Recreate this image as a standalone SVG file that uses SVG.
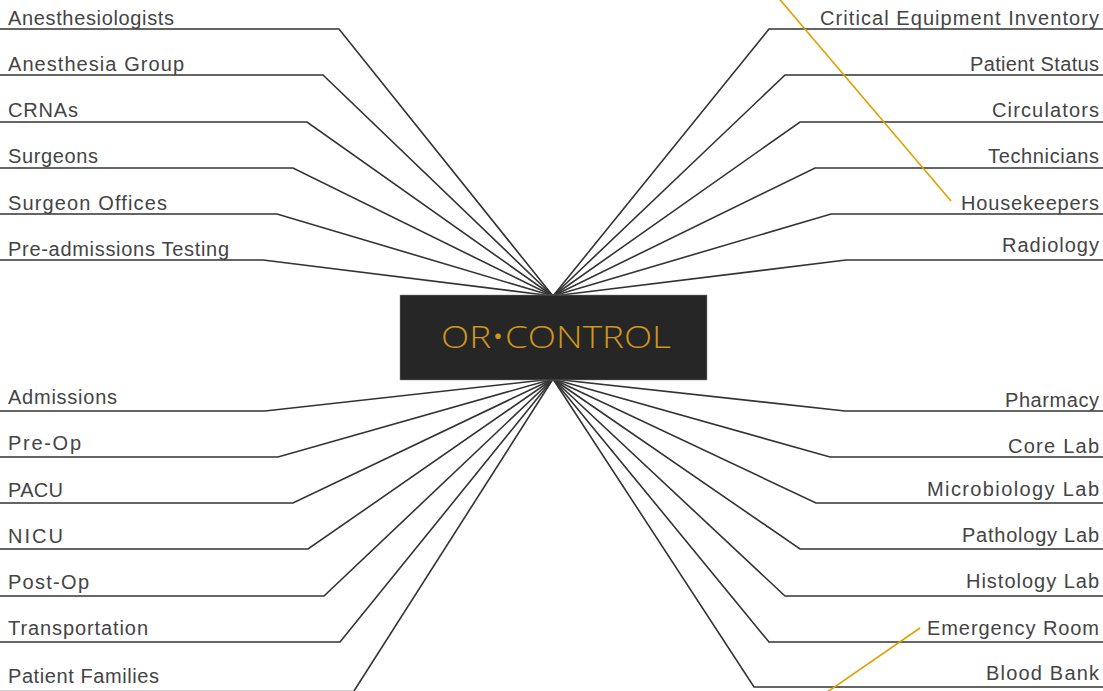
<svg xmlns="http://www.w3.org/2000/svg" width="1103" height="691" viewBox="0 0 1103 691">
<style>
.c{fill:none;stroke:#333;stroke-width:1.6;stroke-linejoin:miter}
.o{fill:none;stroke:#e0a000;stroke-width:1.6}
.t{font-family:"Liberation Sans",Arial,sans-serif;font-size:20px;fill:#444}
.box{fill:#262626;stroke:#888;stroke-width:0.5}
.h{font-family:"Open Sans","Lato","Liberation Sans",sans-serif;font-weight:300;font-size:32px;fill:#cf961c}
</style>
<rect width="1103" height="691" fill="#fff"/>
<g id="connectors">
<polyline class="c" points="0,29 339,29 553,296"/>
<polyline class="c" points="0,75 323,75 553,296"/>
<polyline class="c" points="0,122 307,122 553,296"/>
<polyline class="c" points="0,168 293,168 553,296"/>
<polyline class="c" points="0,214 277,214 553,296"/>
<polyline class="c" points="0,260 263,260 553,296"/>
<polyline class="c" points="1103,29 769,29 553,296"/>
<polyline class="c" points="1103,75 785,75 553,296"/>
<polyline class="c" points="1103,122 800,122 553,296"/>
<polyline class="c" points="1103,168 815,168 553,296"/>
<polyline class="c" points="1103,214 831,214 553,296"/>
<polyline class="c" points="1103,260 846,260 553,296"/>
<polyline class="c" points="0,411 265,411 553,379"/>
<polyline class="c" points="0,457 278,457 553,379"/>
<polyline class="c" points="0,503 293,503 553,379"/>
<polyline class="c" points="0,549 308,549 553,379"/>
<polyline class="c" points="0,596 324,596 553,379"/>
<polyline class="c" points="0,642 340,642 553,379"/>
<line class="c" x1="0" y1="691" x2="354" y2="691" stroke-opacity="0.3"/>
<line class="c" x1="354" y1="691" x2="553" y2="379"/>
<polyline class="c" points="1103,411 845,411 553,379"/>
<polyline class="c" points="1103,457 830,457 553,379"/>
<polyline class="c" points="1103,503 816,503 553,379"/>
<polyline class="c" points="1103,549 800,549 553,379"/>
<polyline class="c" points="1103,596 785,596 553,379"/>
<polyline class="c" points="1103,642 769,642 553,379"/>
<polyline class="c" points="1103,687 754,687 553,379"/>
<line class="o" x1="776" y1="-5" x2="951" y2="201"/>
<line class="o" x1="920" y1="628" x2="820" y2="697"/>
</g>
<g id="center">
<rect class="box" x="400" y="295" width="307" height="85"/>
<text class="h" x="441" y="348" textLength="230" lengthAdjust="spacingAndGlyphs">OR•CONTROL</text>
</g>
<g id="n-anesthesiologists"><text class="t" x="8" y="25" textLength="166">Anesthesiologists</text></g>
<g id="n-anesthesia-group"><text class="t" x="8" y="71" textLength="176">Anesthesia Group</text></g>
<g id="n-crnas"><text class="t" x="8" y="117" textLength="70">CRNAs</text></g>
<g id="n-surgeons"><text class="t" x="8" y="163" textLength="90">Surgeons</text></g>
<g id="n-surgeon-offices"><text class="t" x="8" y="210" textLength="159">Surgeon Offices</text></g>
<g id="n-pre-admissions"><text class="t" x="8" y="256" textLength="221">Pre-admissions Testing</text></g>
<g id="n-admissions"><text class="t" x="8" y="404" textLength="109">Admissions</text></g>
<g id="n-pre-op"><text class="t" x="8" y="450" textLength="73">Pre-Op</text></g>
<g id="n-pacu"><text class="t" x="8" y="497" textLength="55">PACU</text></g>
<g id="n-nicu"><text class="t" x="8" y="543" textLength="55">NICU</text></g>
<g id="n-post-op"><text class="t" x="8" y="589" textLength="81">Post-Op</text></g>
<g id="n-transportation"><text class="t" x="8" y="635" textLength="140">Transportation</text></g>
<g id="n-patient-families"><text class="t" x="8" y="683" textLength="151">Patient Families</text></g>
<g id="n-critical-equipment"><text class="t" x="820" y="25" textLength="279">Critical Equipment Inventory</text></g>
<g id="n-patient-status"><text class="t" x="970" y="71" textLength="129">Patient Status</text></g>
<g id="n-circulators"><text class="t" x="992" y="117" textLength="107">Circulators</text></g>
<g id="n-technicians"><text class="t" x="988" y="163" textLength="111">Technicians</text></g>
<g id="n-housekeepers"><text class="t" x="961" y="210" textLength="138">Housekeepers</text></g>
<g id="n-radiology"><text class="t" x="1002" y="252" textLength="97">Radiology</text></g>
<g id="n-pharmacy"><text class="t" x="1005" y="407" textLength="94">Pharmacy</text></g>
<g id="n-core-lab"><text class="t" x="1008" y="453" textLength="91">Core Lab</text></g>
<g id="n-microbiology-lab"><text class="t" x="927" y="496" textLength="172">Microbiology Lab</text></g>
<g id="n-pathology-lab"><text class="t" x="962" y="542" textLength="137">Pathology Lab</text></g>
<g id="n-histology-lab"><text class="t" x="966" y="588" textLength="133">Histology Lab</text></g>
<g id="n-emergency-room"><text class="t" x="927" y="635" textLength="172">Emergency Room</text></g>
<g id="n-blood-bank"><text class="t" x="986" y="680" textLength="113">Blood Bank</text></g>
</svg>
